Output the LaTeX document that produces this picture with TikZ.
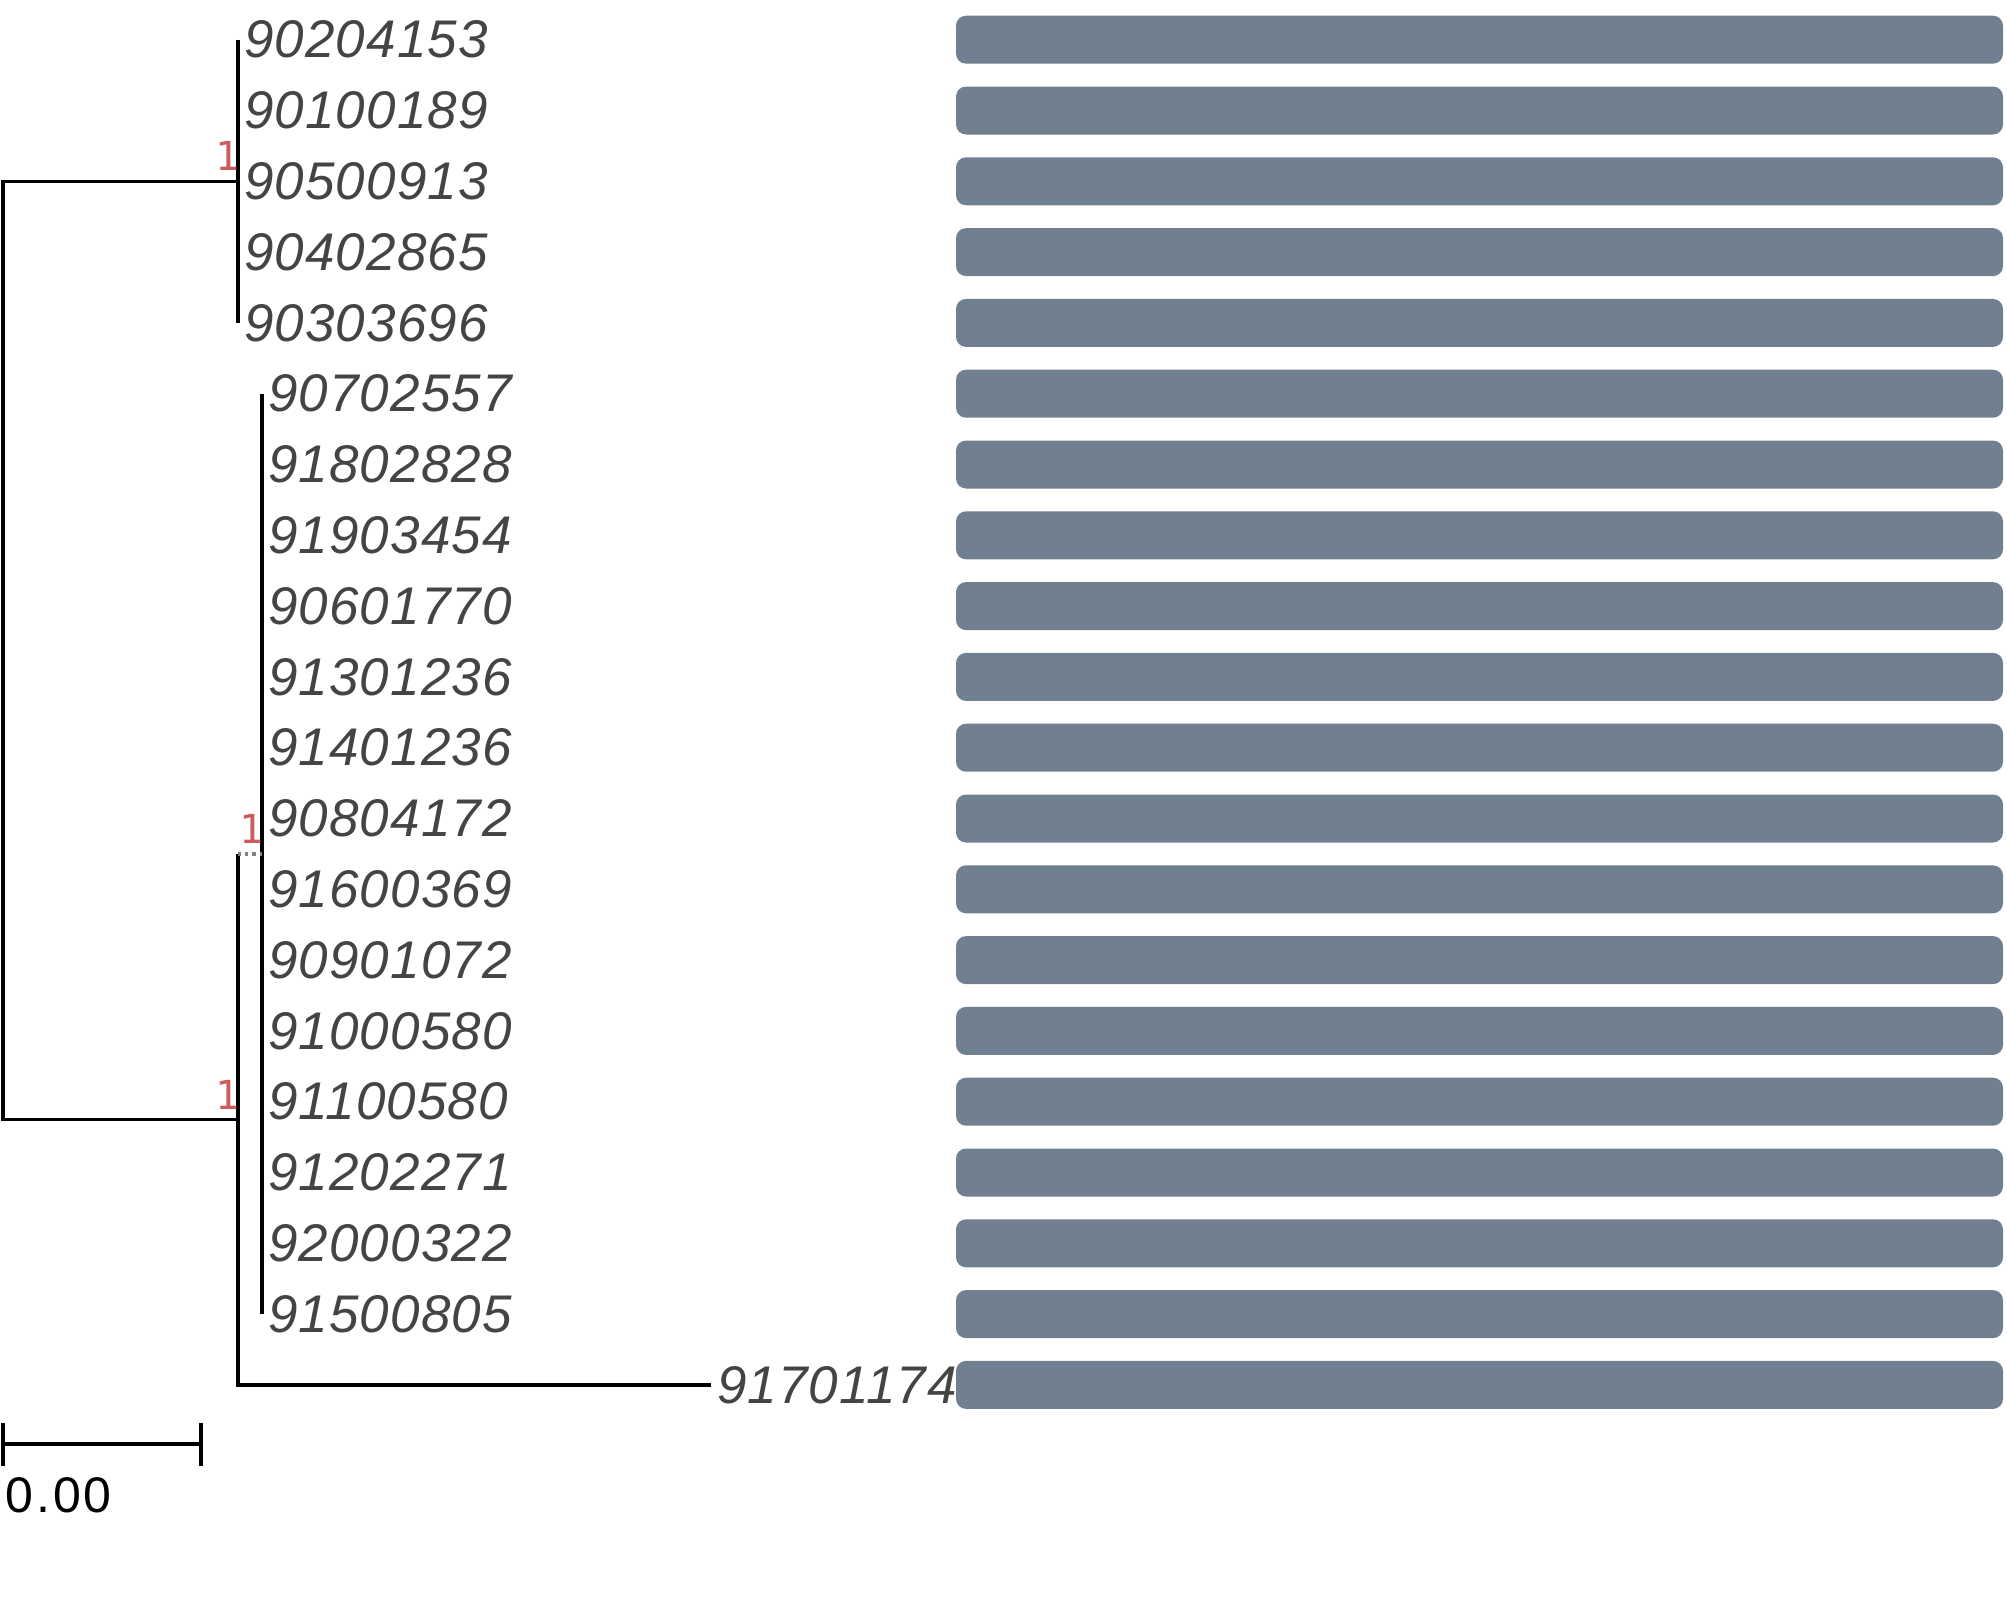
\documentclass[tikz,border=0pt]{standalone}
\usepackage{fontspec}
\setmainfont{Liberation Sans}
\newfontfamily\leaffont[LetterSpace=2]{Liberation Sans}
\newfontfamily\scalefont[LetterSpace=6]{Liberation Sans}
\newfontfamily\monofont{DejaVu Sans Mono}
\usetikzlibrary{positioning}
\definecolor{inkleaf}{HTML}{444444}
\definecolor{inkbar}{HTML}{708090}
\definecolor{inksupport}{HTML}{CD5C5C}

\begin{document}
\begin{tikzpicture}[x=0.5pt, y=-0.5pt,
    branch/.style={black, line width=1.6pt},
    nullbranch/.style={gray, line width=1.6pt, dotted},
    leaf/.style={inner sep=0pt, text=inkleaf,
                 font=\leaffont\fontsize{26.5}{30}\selectfont\itshape},
    bar/.style={fill=inkbar, rounded corners=5pt, inner sep=0pt,
                minimum width=523.5pt, minimum height=24pt},
    support/.style={inner sep=0pt, anchor=south east, text=inksupport,
                    font=\monofont\fontsize{20}{21}\selectfont},
    scalelabel/.style={inner sep=0pt, font=\scalefont\fontsize{25}{28}\selectfont}]
  \useasboundingbox (0,0) rectangle (2007,1622);
  % leaves, labels and bars
  \foreach \name/\tip [count=\i] in {90204153/238, 90100189/238,
      90500913/238, 90402865/238, 90303696/238, 90702557/262,
      91802828/262, 91903454/262, 90601770/262, 91301236/262,
      91401236/262, 90804172/262, 91600369/262, 90901072/262,
      91000580/262, 91100580/262, 91202271/262, 92000322/262,
      91500805/262, 91701174/711}{
    \pgfmathsetmacro{\y}{39.7+(\i-1)*70.8}
    \coordinate (l\i) at (\tip,\y);
    \node[leaf, right=3pt of l\i] (t\i) {\name};
    \node[bar] (b\i) at (1479.5,\y) {};
  }
  % inner nodes
  \coordinate (root) at (3,650);
  \coordinate (c1) at (238,181.3);
  \coordinate (c2) at (238,1119.4);
  \coordinate (c3) at (262,853.9);
  \draw[branch] (c1) -| (root) |- (c2);
  \draw[branch] (l1) -- (l5);
  \draw[branch] (l6) -- (l19);
  \draw[branch] (c3 -| c2) |- (l20);
  \draw[nullbranch] (c3 -| c2) -- (c3);
  \node[support] at ([xshift=1pt, yshift=5pt]c1) {1};
  \node[support] at ([xshift=1pt, yshift=5pt]c3) {1};
  \node[support] at ([xshift=1pt, yshift=5pt]c2) {1};
  % scale bar
  \coordinate (s0) at (3,1444);
  \coordinate (s1) at (201,1444);
  \draw[branch] (s0) -- (s1);
  \draw[branch] ([yshift=10.75pt]s0) -- ([yshift=-10.75pt]s0);
  \draw[branch] ([yshift=10.75pt]s1) -- ([yshift=-10.75pt]s1);
  \node[scalelabel, below right=16.5pt and 1pt of s0] (sl) {0.00};
\end{tikzpicture}
\end{document}
